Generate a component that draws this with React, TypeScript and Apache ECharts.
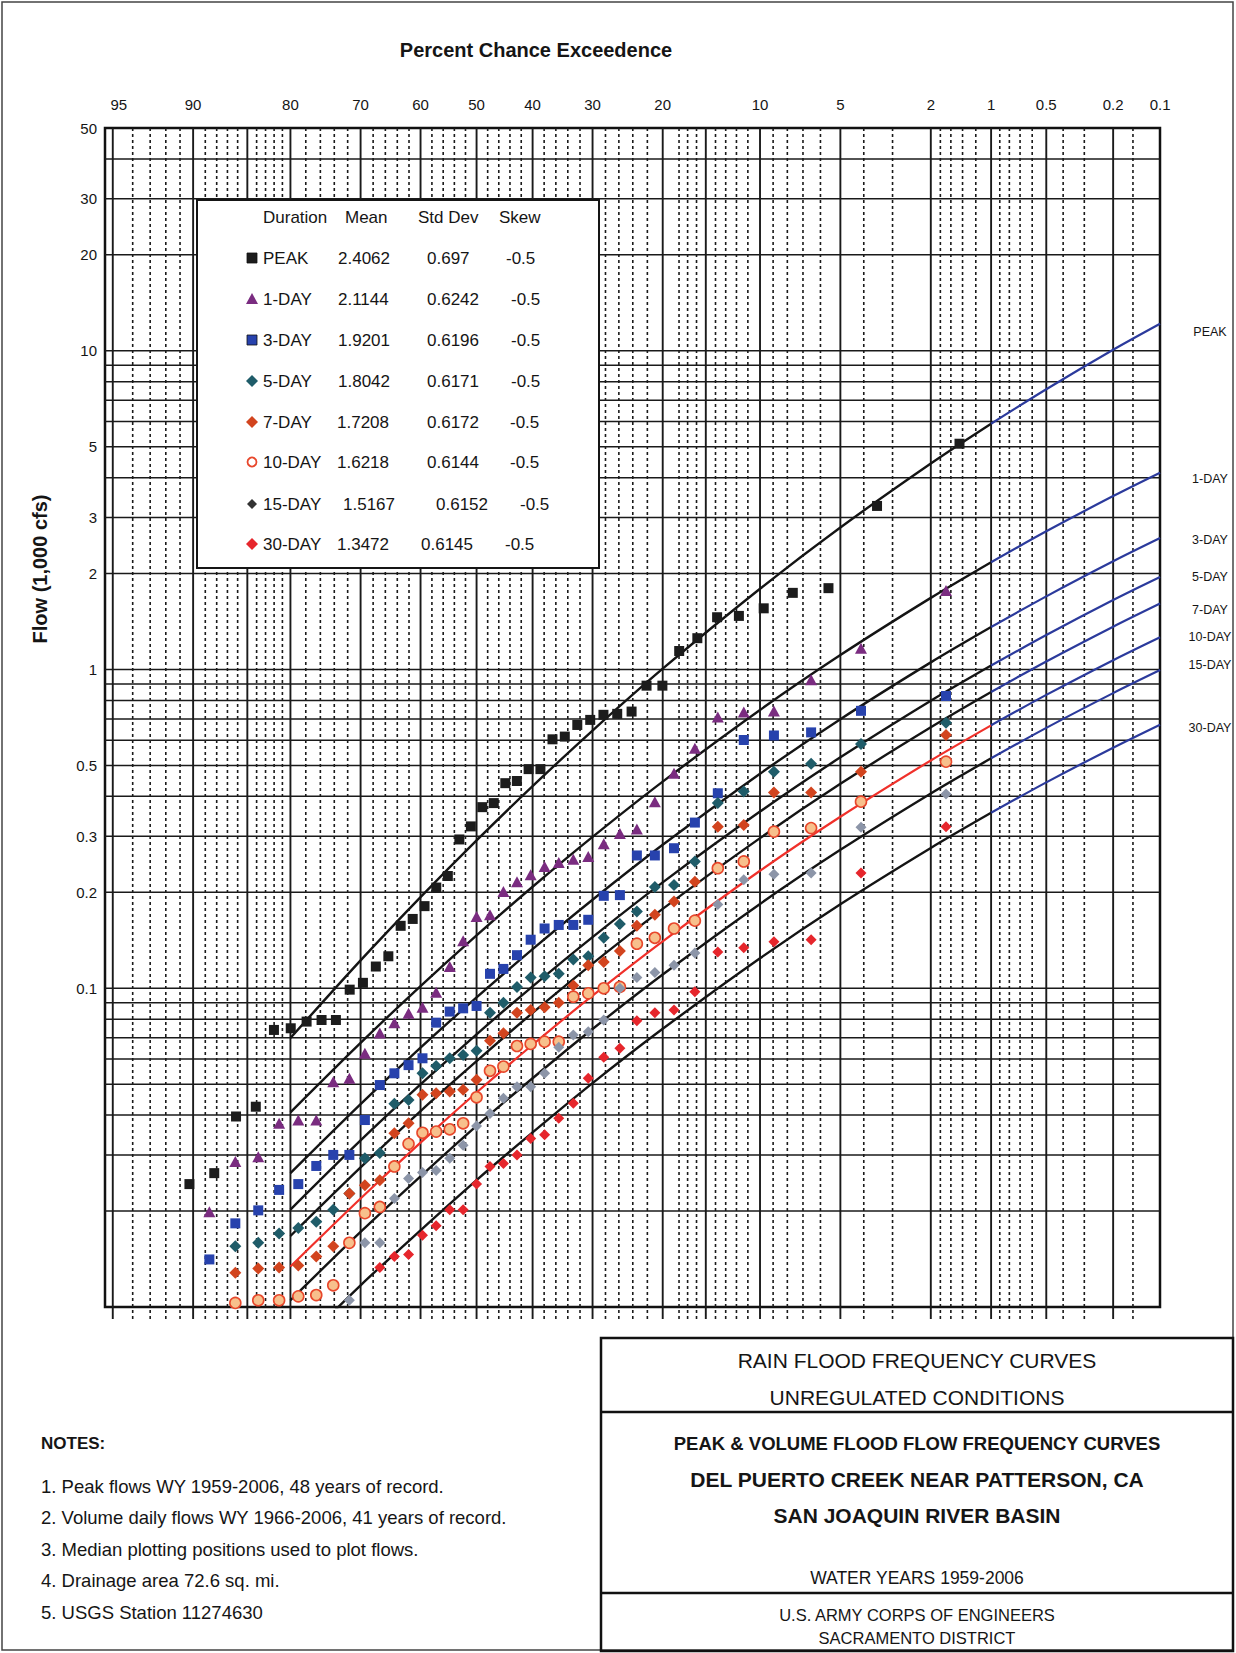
import React, { useEffect, useRef } from "react";
import * as echarts from "echarts";

// ---------------- data ----------------
const PROB_TICKS = ["95", "90", "80", "70", "60", "50", "40", "30", "20", "10", "5", "2", "1", "0.5", "0.2", "0.1"];
const FLOW_TICKS = [50, 30, 20, 10, 5, 3, 2, 1, 0.5, 0.3, 0.2, 0.1];
const FLOW_TICK_TEXT = ["50", "30", "20", "10", "5", "3", "2", "1", "0.5", "0.3", "0.2", "0.1"];
const GRID_SOLID_P = [95, 90, 85, 80, 70, 60, 50, 40, 30, 20, 15, 10, 5, 2, 1, 0.5, 0.2];
const GRID_DASH_P = [94, 93, 92, 91, 89, 88, 87, 86, 84, 83, 82, 81, 78, 76, 74, 72, 68, 66, 64, 62, 58, 56, 54, 52,
  48, 46, 44, 42, 38, 36, 34, 32, 28, 26, 24, 22, 18, 17, 16, 14, 13, 12, 11, 9, 8, 7, 6, 4, 3, 1.8, 1.6, 1.4, 1.2,
  0.9, 0.8, 0.7, 0.6, 0.4, 0.3, 0.15];
const GRID_FLOW = [0.02, 0.03, 0.04, 0.05, 0.06, 0.07, 0.08, 0.09, 0.1, 0.2, 0.3, 0.4, 0.5, 0.6, 0.7, 0.8, 0.9,
  1, 2, 3, 4, 5, 6, 7, 8, 9, 10, 20, 30, 40];

// frequency curves (percent chance exceedence -> flow, 1,000 cfs)
const CURVE_P = [80, 70, 60, 50, 40, 30, 20, 10, 5, 2, 1];
const EXT_P = [1, 0.5, 0.2, 0.1];
const PEAK_CURVE = [0.0698, 0.1223, 0.1932, 0.291, 0.4308, 0.6436, 1.006, 1.792, 2.79, 4.429, 5.904];
const PEAK_EXT = [5.904, 7.572, 10.07, 12.15];
const DAY1_CURVE = [0.0408, 0.0674, 0.1016, 0.1466, 0.2082, 0.2984, 0.445, 0.7468, 1.11, 1.678, 2.171];
const DAY1_EXT = [2.171, 2.714, 3.502, 4.146];
const DAY3_CURVE = [0.0263, 0.0433, 0.0651, 0.0936, 0.1327, 0.1896, 0.2819, 0.4713, 0.6985, 1.053, 1.359];
const DAY3_EXT = [1.359, 1.696, 2.185, 2.584];
const DAY5_CURVE = [0.0202, 0.0333, 0.0499, 0.0717, 0.1014, 0.1447, 0.2149, 0.3584, 0.5302, 0.798, 1.029];
const DAY5_EXT = [1.029, 1.283, 1.652, 1.951];
const DAY7_CURVE = [0.0167, 0.0274, 0.0412, 0.0591, 0.0837, 0.1195, 0.1774, 0.2958, 0.4378, 0.6587, 0.8499];
const DAY7_EXT = [0.8499, 1.06, 1.363, 1.611];
const DAY10_CURVE = [0.0134, 0.0219, 0.0328, 0.0471, 0.0665, 0.0948, 0.1404, 0.2337, 0.3452, 0.5185, 0.6682];
const DAY10_EXT = [0.6682, 0.8326, 1.07, 1.263];
const DAY15_CURVE = [0.0105, 0.0172, 0.0257, 0.037, 0.0522, 0.0745, 0.1104, 0.1839, 0.2718, 0.4085, 0.5265];
const DAY15_EXT = [0.5265, 0.6561, 0.8433, 0.9959];
const DAY30_CURVE = [0.0071, 0.0117, 0.0174, 0.025, 0.0353, 0.0504, 0.0746, 0.1242, 0.1835, 0.2756, 0.3552];
const DAY30_EXT = [0.3552, 0.4425, 0.5686, 0.6715];

// plotting positions (percent chance exceedence)
const PEAK_PP = [1.45, 3.51, 5.58, 7.64, 9.71, 11.78, 13.84, 15.91, 17.98, 20.04, 22.11, 24.17, 26.24, 28.31, 30.37,
  32.44, 34.5, 36.57, 38.64, 40.7, 42.77, 44.83, 46.9, 48.97, 51.03, 53.1, 55.17, 57.23, 59.3, 61.36, 63.43, 65.5,
  67.56, 69.63, 71.69, 73.76, 75.83, 77.89, 79.96, 82.02, 84.09, 86.16, 88.22, 90.29];
const VOL_PP = [1.69, 4.11, 6.52, 8.94, 11.35, 13.77, 16.18, 18.6, 21.01, 23.43, 25.85, 28.26, 30.68, 33.09, 35.51,
  37.92, 40.34, 42.75, 45.17, 47.58, 50.0, 52.42, 54.83, 57.25, 59.66, 62.08, 64.49, 66.91, 69.32, 71.74, 74.15,
  76.57, 78.99, 81.4, 83.82, 86.23, 88.65];

// observed flows (1,000 cfs), ranked
const PEAK_Q = [5.11, 3.26, 1.8, 1.74, 1.556, 1.473, 1.459, 1.254, 1.143, 0.89, 0.89, 0.738, 0.726, 0.721, 0.695,
  0.67, 0.616, 0.604, 0.487, 0.487, 0.447, 0.44, 0.381, 0.37, 0.322, 0.293, 0.225, 0.207, 0.181, 0.165, 0.157,
  0.126, 0.117, 0.104, 0.099, 0.0795, 0.0795, 0.0786, 0.0749, 0.074, 0.0425, 0.0396, 0.0263, 0.0243];
const DAY1_Q = [1.769, 1.166, 0.928, 0.741, 0.736, 0.71, 0.566, 0.473, 0.385, 0.316, 0.306, 0.284, 0.259, 0.254,
  0.248, 0.241, 0.227, 0.216, 0.201, 0.17, 0.168, 0.141, 0.117, 0.0971, 0.0872, 0.0835, 0.078, 0.0724, 0.0625,
  0.0522, 0.0509, 0.0386, 0.0386, 0.0377, 0.0296, 0.0286, 0.0199];
const DAY3_Q = [0.826, 0.742, 0.635, 0.621, 0.601, 0.409, 0.331, 0.275, 0.261, 0.261, 0.196, 0.195, 0.164, 0.158,
  0.158, 0.154, 0.142, 0.127, 0.115, 0.111, 0.088, 0.0865, 0.0845, 0.078, 0.0603, 0.0574, 0.0541, 0.0497, 0.0386,
  0.03, 0.03, 0.0277, 0.0243, 0.0233, 0.0201, 0.0183, 0.0141];
const DAY5_Q = [0.681, 0.584, 0.506, 0.478, 0.414, 0.381, 0.25, 0.211, 0.208, 0.174, 0.159, 0.144, 0.126, 0.123,
  0.111, 0.109, 0.108, 0.101, 0.0901, 0.0838, 0.0637, 0.0618, 0.0603, 0.057, 0.0541, 0.0446, 0.0434, 0.0304,
  0.0293, 0.0227, 0.0202, 0.0185, 0.0177, 0.017, 0.0159, 0.0155];
const DAY7_Q = [0.623, 0.478, 0.411, 0.411, 0.325, 0.321, 0.216, 0.187, 0.17, 0.157, 0.131, 0.121, 0.118, 0.102,
  0.0901, 0.0872, 0.0855, 0.0838, 0.0722, 0.0685, 0.0516, 0.048, 0.0474, 0.0468, 0.0463, 0.0377, 0.0351, 0.025,
  0.0241, 0.0227, 0.0155, 0.0144, 0.0135, 0.0133, 0.0132, 0.0128];
const DAY10_Q = [0.514, 0.385, 0.318, 0.31, 0.25, 0.238, 0.163, 0.154, 0.144, 0.138, 0.101, 0.1, 0.0964, 0.0941,
  0.068, 0.068, 0.0669, 0.0659, 0.0568, 0.0551, 0.0455, 0.0377, 0.0361, 0.0355, 0.0352, 0.0325, 0.0276, 0.0206,
  0.0197, 0.0159, 0.0117, 0.0109, 0.0108, 0.0105, 0.0105, 0.0103];
const DAY15_Q = [0.407, 0.32, 0.23, 0.228, 0.219, 0.183, 0.129, 0.118, 0.112, 0.108, 0.1, 0.0795, 0.0731, 0.0714,
  0.0653, 0.0541, 0.0491, 0.0491, 0.0452, 0.0405, 0.037, 0.0322, 0.0293, 0.0268, 0.0264, 0.0253, 0.0219, 0.0159,
  0.0159, 0.0105];
const DAY30_Q = [0.321, 0.23, 0.142, 0.14, 0.134, 0.13, 0.0976, 0.0855, 0.0838, 0.0791, 0.0648, 0.0607, 0.0522,
  0.0436, 0.0391, 0.0347, 0.0338, 0.03, 0.0282, 0.0276, 0.0243, 0.0202, 0.0202, 0.018, 0.0168, 0.0146, 0.0144,
  0.0133];

// legend table
const LEG_NAMES = ["PEAK", "1-DAY", "3-DAY", "5-DAY", "7-DAY", "10-DAY", "15-DAY", "30-DAY"];
const LEG_MEAN = ["2.4062", "2.1144", "1.9201", "1.8042", "1.7208", "1.6218", "1.5167", "1.3472"];
const LEG_STD = ["0.697", "0.6242", "0.6196", "0.6171", "0.6172", "0.6144", "0.6152", "0.6145"];
const LEG_SKEW = ["-0.5", "-0.5", "-0.5", "-0.5", "-0.5", "-0.5", "-0.5", "-0.5"];

const NOTES = [
  "1. Peak flows WY 1959-2006, 48 years of record.",
  "2. Volume daily flows WY 1966-2006, 41 years of record.",
  "3. Median plotting positions used to plot flows.",
  "4. Drainage area 72.6 sq. mi.",
  "5. USGS Station 11274630",
];

// ---------------- layout / style ----------------
const FONT = '"Liberation Sans", Arial, Helvetica, sans-serif';
const X_MIN = -1.68;
const X_MAX = 3.09;
const Y_MIN = 0.01;
const Y_MAX = 50;
const GRID = { left: 105, top: 128, width: 1055, height: 1179 };
const LEG_ROW_Y = [258, 299, 340, 381, 422, 462, 504, 544];
const LEG_MEAN_X = [338, 338, 338, 338, 337, 337, 343, 337];
const LEG_STD_X = [427, 427, 427, 427, 427, 427, 436, 421];
const LEG_SKEW_X = [506, 511, 511, 511, 510, 510, 520, 505];
const RIGHT_LABEL_Y = [332, 479, 540, 577, 610, 637, 665, 728];
const NOTE_Y = [1486, 1517, 1549, 1580, 1612];

// probability scale: percent chance exceedence -> standard normal deviate
function invNorm(p: number): number {
  const a = [-3.969683028665376e1, 2.209460984245205e2, -2.759285104469687e2, 1.38357751867269e2, -3.066479806614716e1, 2.506628277459239];
  const b = [-5.447609879822406e1, 1.615858368580409e2, -1.556989798598866e2, 6.680131188771972e1, -1.328068155288572e1];
  const c = [-7.784894002430293e-3, -3.223964580411365e-1, -2.400758277161838, -2.549732539343734, 4.374664141464968, 2.938163982698783];
  const d = [7.784695709041462e-3, 3.224671290700398e-1, 2.445134137142996, 3.754408661907416];
  const pl = 0.02425;
  if (p < pl) {
    const q = Math.sqrt(-2 * Math.log(p));
    return (((((c[0] * q + c[1]) * q + c[2]) * q + c[3]) * q + c[4]) * q + c[5]) / ((((d[0] * q + d[1]) * q + d[2]) * q + d[3]) * q + 1);
  }
  if (p <= 1 - pl) {
    const q = p - 0.5;
    const r = q * q;
    return ((((((a[0] * r + a[1]) * r + a[2]) * r + a[3]) * r + a[4]) * r + a[5]) * q) / (((((b[0] * r + b[1]) * r + b[2]) * r + b[3]) * r + b[4]) * r + 1);
  }
  const q = Math.sqrt(-2 * Math.log(1 - p));
  return -(((((c[0] * q + c[1]) * q + c[2]) * q + c[3]) * q + c[4]) * q + c[5]) / ((((d[0] * q + d[1]) * q + d[2]) * q + d[3]) * q + 1);
}
const pz = (pct: number) => invNorm(1 - pct / 100);

function txt(x: number, y: number, text: string, size: number, o: any = {}) {
  return {
    type: "text",
    x,
    y,
    z: 100,
    silent: true,
    rotation: o.rotation || 0,
    style: {
      text,
      fill: o.color || "#151515",
      fontSize: size,
      fontFamily: FONT,
      fontWeight: o.bold ? "bold" : "normal",
      textAlign: o.align || "left",
      textVerticalAlign: "middle",
      align: o.align || "left",
      verticalAlign: "middle",
    },
  };
}

type Spec = {
  name: string;
  q: number[];
  pp: number[];
  curve: number[];
  ext: number[];
  symbol: string;
  size: number;
  color: string;
  border?: string;
  curveColor: string;
};

const SPECS: Spec[] = [
  { name: "PEAK", q: PEAK_Q, pp: PEAK_PP, curve: PEAK_CURVE, ext: PEAK_EXT, symbol: "rect", size: 10, color: "#1c1c1c", curveColor: "#141414" },
  { name: "1-DAY", q: DAY1_Q, pp: VOL_PP, curve: DAY1_CURVE, ext: DAY1_EXT, symbol: "triangle", size: 12, color: "#7a2c80", curveColor: "#141414" },
  { name: "3-DAY", q: DAY3_Q, pp: VOL_PP, curve: DAY3_CURVE, ext: DAY3_EXT, symbol: "rect", size: 10, color: "#2742ad", curveColor: "#141414" },
  { name: "5-DAY", q: DAY5_Q, pp: VOL_PP, curve: DAY5_CURVE, ext: DAY5_EXT, symbol: "diamond", size: 12, color: "#1f5c69", curveColor: "#141414" },
  { name: "7-DAY", q: DAY7_Q, pp: VOL_PP, curve: DAY7_CURVE, ext: DAY7_EXT, symbol: "diamond", size: 12, color: "#d2441e", curveColor: "#141414" },
  { name: "10-DAY", q: DAY10_Q, pp: VOL_PP, curve: DAY10_CURVE, ext: DAY10_EXT, symbol: "circle", size: 11, color: "#f7c08c", border: "#e8472b", curveColor: "#f0302a" },
  { name: "15-DAY", q: DAY15_Q, pp: VOL_PP, curve: DAY15_CURVE, ext: DAY15_EXT, symbol: "diamond", size: 11, color: "#8c95a8", curveColor: "#141414" },
  { name: "30-DAY", q: DAY30_Q, pp: VOL_PP, curve: DAY30_CURVE, ext: DAY30_EXT, symbol: "diamond", size: 11, color: "#e6262c", curveColor: "#141414" },
];

function legendMarker(i: number, x: number, y: number) {
  const s = SPECS[i];
  const base = { z: 101, silent: true };
  if (s.symbol === "rect") {
    return { ...base, type: "rect", shape: { x: x - 5, y: y - 5, width: 10, height: 10 }, style: { fill: s.color, stroke: "#111", lineWidth: 0.8 } };
  }
  if (s.symbol === "triangle") {
    return { ...base, type: "polygon", shape: { points: [[x, y - 6], [x + 6, y + 5], [x - 6, y + 5]] }, style: { fill: s.color } };
  }
  if (s.symbol === "circle") {
    return { ...base, type: "circle", shape: { cx: x, cy: y, r: 4.5 }, style: { fill: "#fff", stroke: s.border, lineWidth: 1.8 } };
  }
  const r = i === 6 ? 5 : 6;
  return { ...base, type: "polygon", shape: { points: [[x, y - r], [x + r, y], [x, y + r], [x - r, y]] }, style: { fill: i === 6 ? "#333" : s.color } };
}

function buildOption() {
  const series: any[] = [];

  // vertical probability grid lines (with short ticks below the frame)
  const vData = [
    ...GRID_SOLID_P.map((p) => [pz(p), 1, 0]),
    ...GRID_DASH_P.map((p) => [pz(p), 1, 1]),
  ];
  series.push({
    type: "custom",
    z: 1,
    silent: true,
    clip: false,
    data: vData,
    encode: { x: 0, y: 1 },
    renderItem: (params: any, api: any) => {
      const x = api.value(0);
      const kind = api.value(2);
      const a = api.coord([x, Y_MAX]);
      const b = api.coord([x, Y_MIN]);
      return {
        type: "line",
        shape: { x1: a[0], y1: a[1], x2: b[0], y2: b[1] + 12 },
        style: kind ? { stroke: "#1a1a1a", lineWidth: 1.6, lineDash: [3, 3] } : { stroke: "#1a1a1a", lineWidth: 1.9 },
      };
    },
  });

  // horizontal flow grid lines
  series.push({
    type: "custom",
    z: 1,
    silent: true,
    data: GRID_FLOW.map((v) => [X_MIN, v]),
    encode: { x: 0, y: 1 },
    renderItem: (params: any, api: any) => {
      const v = api.value(1);
      const a = api.coord([X_MIN, v]);
      const b = api.coord([X_MAX, v]);
      return { type: "line", shape: { x1: a[0], y1: a[1], x2: b[0], y2: b[1] }, style: { stroke: "#1a1a1a", lineWidth: 1.5 } };
    },
  });

  // top probability labels
  series.push({
    type: "custom",
    z: 5,
    silent: true,
    data: PROB_TICKS.map((t) => [pz(parseFloat(t)), Y_MAX]),
    encode: { x: 0, y: 1 },
    clip: false,
    renderItem: (params: any, api: any) => {
      const pt = api.coord([api.value(0), api.value(1)]);
      const i = params.dataIndex;
      const dx = i === 0 ? 6 : 0;
      return {
        type: "text",
        x: pt[0] + dx,
        y: pt[1] - 24,
        style: { text: PROB_TICKS[i], fill: "#151515", fontSize: 15, fontFamily: FONT, textAlign: "center", textVerticalAlign: "middle", align: "center", verticalAlign: "middle" },
      };
    },
  });

  // left flow labels
  series.push({
    type: "custom",
    z: 5,
    silent: true,
    data: FLOW_TICKS.map((v) => [X_MIN, v]),
    encode: { x: 0, y: 1 },
    clip: false,
    renderItem: (params: any, api: any) => {
      const pt = api.coord([api.value(0), api.value(1)]);
      return {
        type: "text",
        x: pt[0] - 8,
        y: pt[1],
        style: { text: FLOW_TICK_TEXT[params.dataIndex], fill: "#151515", fontSize: 15, fontFamily: FONT, textAlign: "right", textVerticalAlign: "middle", align: "right", verticalAlign: "middle" },
      };
    },
  });

  // frequency curves
  SPECS.forEach((s) => {
    series.push({
      type: "line",
      name: s.name + " curve",
      z: 3,
      silent: true,
      showSymbol: false,
      smooth: 0.3,
      data: CURVE_P.map((p, i) => [pz(p), s.curve[i]]),
      lineStyle: { color: s.curveColor, width: s.curveColor === "#141414" ? 2.4 : 2.2 },
    });
    series.push({
      type: "line",
      name: s.name + " ext",
      z: 3,
      silent: true,
      showSymbol: false,
      smooth: 0.3,
      data: EXT_P.map((p, i) => [pz(p), s.ext[i]]),
      lineStyle: { color: "#2b3a9c", width: 2.2 },
    });
  });

  // observed points
  SPECS.forEach((s) => {
    series.push({
      type: "scatter",
      name: s.name,
      z: 4,
      silent: true,
      symbol: s.symbol,
      symbolSize: s.symbol === "triangle" ? [12, 11] : s.size,
      data: s.q.map((v, i) => [pz(s.pp[i]), v]),
      itemStyle: s.border
        ? { color: s.color, borderColor: s.border, borderWidth: 1.6, opacity: 1 }
        : { color: s.color, opacity: 1 },
    });
  });

  // graphic elements
  const g: any[] = [];
  g.push({ type: "rect", z: 90, silent: true, shape: { x: 2, y: 2, width: 1231, height: 1648 }, style: { fill: "none", stroke: "#444", lineWidth: 1.5 } });
  g.push(txt(536, 50, "Percent Chance Exceedence", 20, { bold: true, align: "center" }));
  g.push(txt(40, 569, "Flow (1,000 cfs)", 20, { bold: true, align: "center", rotation: Math.PI / 2 }));

  // legend table
  g.push({ type: "rect", z: 99, silent: true, shape: { x: 197, y: 200, width: 402, height: 368 }, style: { fill: "#fff", stroke: "#151515", lineWidth: 2 } });
  g.push(txt(263, 217, "Duration", 17));
  g.push(txt(345, 217, "Mean", 17));
  g.push(txt(418, 217, "Std Dev", 17));
  g.push(txt(499, 217, "Skew", 17));
  LEG_NAMES.forEach((n, i) => {
    const y = LEG_ROW_Y[i];
    g.push(legendMarker(i, 252, y));
    g.push(txt(263, y, n, 17));
    g.push(txt(LEG_MEAN_X[i], y, LEG_MEAN[i], 17));
    g.push(txt(LEG_STD_X[i], y, LEG_STD[i], 17));
    g.push(txt(LEG_SKEW_X[i], y, LEG_SKEW[i], 17));
  });

  // right curve labels
  LEG_NAMES.forEach((n, i) => {
    g.push(txt(1210, RIGHT_LABEL_Y[i], n, 12.5, { align: "center" }));
  });

  // notes
  g.push(txt(41, 1443, "NOTES:", 17, { bold: true }));
  NOTES.forEach((n, i) => g.push(txt(41, NOTE_Y[i], n, 18.5)));

  // title block
  g.push({ type: "rect", z: 90, silent: true, shape: { x: 601, y: 1338, width: 632, height: 313 }, style: { fill: "none", stroke: "#111", lineWidth: 2.5 } });
  g.push({ type: "line", z: 90, silent: true, shape: { x1: 601, y1: 1412, x2: 1233, y2: 1412 }, style: { stroke: "#111", lineWidth: 2.5 } });
  g.push({ type: "line", z: 90, silent: true, shape: { x1: 601, y1: 1593, x2: 1233, y2: 1593 }, style: { stroke: "#111", lineWidth: 2.5 } });
  g.push(txt(917, 1360, "RAIN FLOOD FREQUENCY CURVES", 21, { align: "center" }));
  g.push(txt(917, 1397, "UNREGULATED CONDITIONS", 21, { align: "center" }));
  g.push(txt(917, 1443, "PEAK & VOLUME FLOOD FLOW FREQUENCY CURVES", 18.5, { bold: true, align: "center" }));
  g.push(txt(917, 1479, "DEL PUERTO CREEK NEAR PATTERSON, CA", 21, { bold: true, align: "center" }));
  g.push(txt(917, 1515, "SAN JOAQUIN RIVER BASIN", 21, { bold: true, align: "center" }));
  g.push(txt(917, 1578, "WATER YEARS 1959-2006", 17.5, { align: "center" }));
  g.push(txt(917, 1615, "U.S. ARMY CORPS OF ENGINEERS", 16.5, { align: "center" }));
  g.push(txt(917, 1638, "SACRAMENTO DISTRICT", 16.5, { align: "center" }));

  return {
    animation: false,
    backgroundColor: "#ffffff",
    grid: { ...GRID, show: true, borderColor: "#111", borderWidth: 2.5, backgroundColor: "transparent" },
    xAxis: {
      type: "value",
      min: X_MIN,
      max: X_MAX,
      axisLabel: { show: false },
      axisTick: { show: false },
      axisLine: { show: false },
      splitLine: { show: false },
    },
    yAxis: {
      type: "log",
      logBase: 10,
      min: Y_MIN,
      max: Y_MAX,
      axisLabel: { show: false },
      axisTick: { show: false },
      axisLine: { show: false },
      splitLine: { show: false },
      minorTick: { show: false },
    },
    series,
    graphic: { elements: g },
  };
}

export default function App() {
  const ref = useRef<HTMLDivElement>(null);
  useEffect(() => {
    document.body.style.margin = "0";
    document.body.style.overflow = "hidden";
    const chart = echarts.init(ref.current as HTMLDivElement, undefined, { renderer: "svg" });
    chart.setOption(buildOption() as any);
    return () => chart.dispose();
  }, []);
  return <div ref={ref} style={{ width: 1236, height: 1653, background: "#fff" }} />;
}
